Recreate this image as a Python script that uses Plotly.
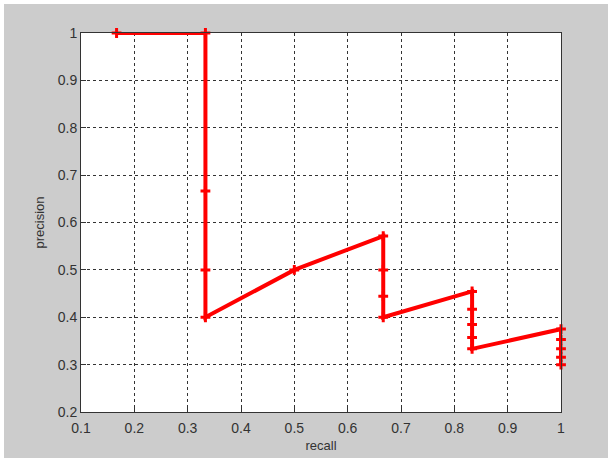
import plotly.graph_objects as go

recall = [0.1667, 0.3333, 0.3333, 0.3333, 0.3333, 0.5, 0.6667, 0.6667, 0.6667, 0.6667,
          0.8333, 0.8333, 0.8333, 0.8333, 0.8333, 1.0, 1.0, 1.0, 1.0, 1.0]
precision = [1.0, 1.0, 0.6667, 0.5, 0.4, 0.5, 0.5714, 0.5, 0.4444, 0.4,
             0.4545, 0.4167, 0.3846, 0.3571, 0.3333, 0.375, 0.3529, 0.3333, 0.3158, 0.3]

x_ticks = [0.1, 0.2, 0.3, 0.4, 0.5, 0.6, 0.7, 0.8, 0.9, 1.0]
x_labels = ["0.1", "0.2", "0.3", "0.4", "0.5", "0.6", "0.7", "0.8", "0.9", "1"]
y_ticks = [0.2, 0.3, 0.4, 0.5, 0.6, 0.7, 0.8, 0.9, 1.0]
y_labels = ["0.2", "0.3", "0.4", "0.5", "0.6", "0.7", "0.8", "0.9", "1"]

fig = go.Figure()
fig.add_trace(go.Scatter(
    x=recall, y=precision, mode="lines+markers",
    line=dict(color="#ff0000", width=4),
    marker=dict(symbol="cross-thin", size=7, line=dict(color="#ff0000", width=3)),
    cliponaxis=False, showlegend=False,
))

axis_common = dict(
    showline=True, mirror=True, linecolor="#333333", linewidth=1,
    ticks="inside", ticklen=5, tickcolor="#333333",
    showgrid=True, gridcolor="#333333", gridwidth=1, griddash="3px,3px",
    zeroline=False, automargin=False,
    tickfont=dict(family="Liberation Sans, Arial, sans-serif", size=14, color="#333333"),
)

fig.update_xaxes(range=[0.1, 1.0], tickvals=x_ticks, ticktext=x_labels, ticklabelstandoff=3,
                 title=dict(text="recall", font=dict(family="Liberation Sans, Arial, sans-serif", size=13, color="#333333"), standoff=6),
                 **axis_common)
fig.update_yaxes(range=[0.2, 1.0], tickvals=y_ticks, ticktext=y_labels,
                 title=dict(text="precision", font=dict(family="Liberation Sans, Arial, sans-serif", size=13, color="#333333"), standoff=10),
                 **axis_common)

fig.update_layout(
    width=604, height=454,
    margin=dict(l=77, r=47, t=29, b=46),
    paper_bgcolor="#cccccc", plot_bgcolor="#ffffff",
)

fig.write_html("out.html", post_script="document.body.style.margin='4px';document.body.style.background='#ffffff';")
